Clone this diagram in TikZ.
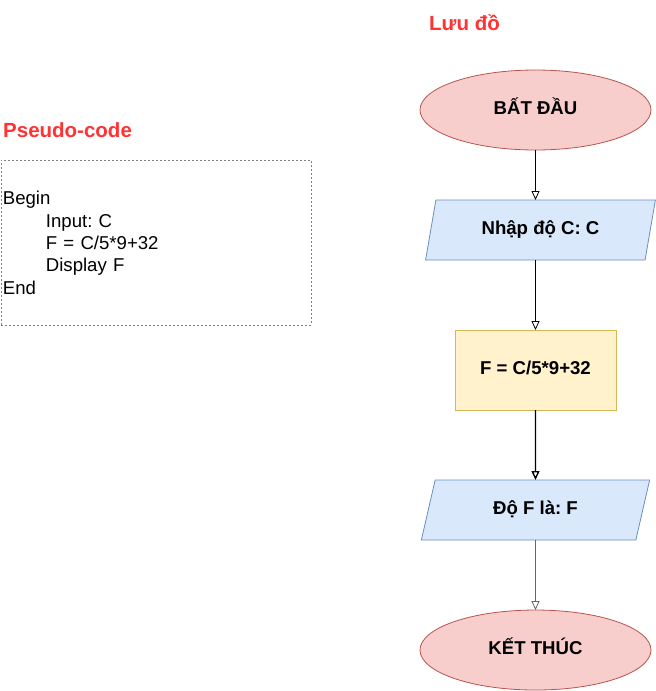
\documentclass[tikz,border=0pt]{standalone}
\usepackage{fontspec}
\setmainfont{Liberation Sans}
\usepackage{xcolor}
\usetikzlibrary{positioning, arrows.meta, shapes.geometric}

\definecolor{titlered}{HTML}{FF3333}
\definecolor{termfill}{HTML}{F8CECC}
\definecolor{termdraw}{HTML}{B85450}
\definecolor{iofill}{HTML}{DAE8FC}
\definecolor{iodraw}{HTML}{6C8EBF}
\definecolor{procfill}{HTML}{FFF2CC}
\definecolor{procdraw}{HTML}{D6B656}
\frenchspacing

\begin{document}
\begin{tikzpicture}[x=1pt, y=-1pt, node distance=50pt,
    every node/.style={font=\fontsize{18.6}{22.3}\selectfont},
    shapetext/.style={font=\fontsize{18.6}{22.3}\selectfont\bfseries, text height=13.5pt, text depth=4pt, outer sep=0pt, line width=0.8pt},
    terminal/.style={shapetext, ellipse, draw=termdraw, fill=termfill, minimum width=231pt, minimum height=80pt, inner sep=0pt},
    iobox/.style={shapetext, trapezium, trapezium left angle=71.6, trapezium right angle=108.4, trapezium stretches=true, draw=iodraw, fill=iofill, minimum width=230pt, minimum height=60pt, inner sep=0pt},
    procbox/.style={shapetext, rectangle, draw=procdraw, fill=procfill, minimum width=161pt, minimum height=80pt, inner sep=0pt},
    flow/.style={-{Triangle[open, length=9pt, width=8pt]}, line width=0.8pt},
    heading/.style={text=titlered, font=\fontsize{20.5}{24}\selectfont\bfseries, inner sep=0pt}]
        \useasboundingbox (0,0) rectangle (656,691);
        % Titles
        \node[heading, anchor=base west] (flowtitle) at (429,30) {Lưu đồ};
        \node[heading, anchor=base west] (codetitle) at (3,137) {Pseudo-code};
        % Pseudo-code box
        \node[draw=gray, dash pattern=on 2pt off 2pt, line width=0.8pt, anchor=north west, minimum width=310pt, minimum height=165pt, text width=306pt, inner xsep=2pt, align=left] (code) at (0.5,160) {Begin\\\hspace*{43pt}Input: C\\\hspace*{43pt}F = C/5*9+32\\\hspace*{43pt}Display F\\End};
        % Flowchart
        \node[terminal] (start) at (535.5,110) {BẤT ĐẦU};
        \node[iobox, below=50pt of start, xshift=5pt] (input) {Nhập độ C: C};
        \node[procbox, below=70pt of input, xshift=-5pt] (calc) {F = C/5*9+32};
        \node[iobox, below=70pt of calc] (output) {Độ F là: F};
        \node[terminal, below=70pt of output] (stop) {KẾT THÚC};
        % Arrows between shapes
        \draw[flow] (start) -- (start.south |- input.north);
        \draw[flow] (calc.north |- input.south) -- (calc);
        \draw[flow, line width=1.4pt] (calc) -- (output);
        \draw[flow, draw=black!60] (output) -- (stop);
    \end{tikzpicture}
\end{document}
